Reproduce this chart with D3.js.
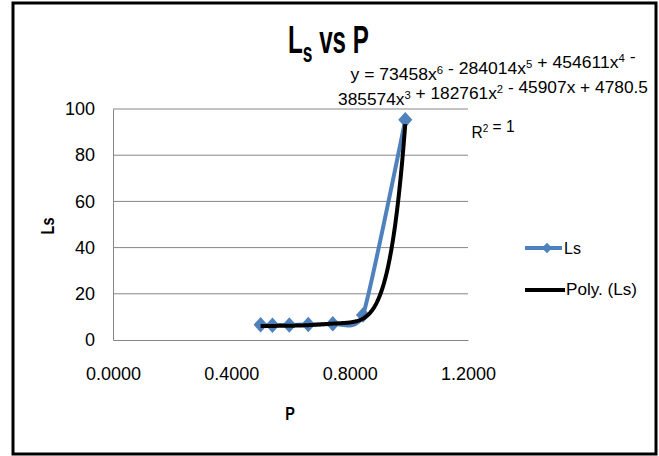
<!DOCTYPE html>
<html>
<head>
<meta charset="utf-8">
<script src="https://cdn.jsdelivr.net/npm/d3@7"></script>
<style>
  html, body { margin: 0; padding: 0; background: #fff; }
  svg { display: block; }
  text { font-family: "Liberation Sans", Arial, sans-serif; fill: #000; }
</style>
</head>
<body>
<svg id="chart" width="659" height="456"></svg>
<script>
// Ls measured against P
const pValues = [0.499, 0.539, 0.596, 0.660, 0.743, 0.845, 0.988];
const lsValues = [6.6, 6.4, 6.5, 6.7, 7.0, 10.8, 95.3];

// 6th-order polynomial trendline, coefficients from x^0 up to x^6
const polyCoefficients = [4780.5, -45907, 182761, -385574, 454611, -284014, 73458];

const xTicks = [0, 0.4, 0.8, 1.2];
const yTicks = [0, 20, 40, 60, 80, 100];
const seriesNames = ["Ls", "Poly. (Ls)"];

const svg = d3.select("#chart");

// outer chart frame
svg.append("rect")
  .attr("x", 13).attr("y", 3)
  .attr("width", 643).attr("height", 451)
  .attr("fill", "#fff")
  .attr("stroke", "#000")
  .attr("stroke-width", 3);

const x = d3.scaleLinear().domain([0, 1.2]).range([113, 468]);
const y = d3.scaleLinear().domain([0, 100]).range([340, 109]);

// horizontal gridlines
svg.append("g")
  .selectAll("line")
  .data(yTicks.filter(d => d > 0))
  .join("line")
  .attr("x1", x(0)).attr("x2", x(1.2))
  .attr("y1", d => y(d)).attr("y2", d => y(d))
  .attr("stroke", "#868686").attr("stroke-width", 1);

// y axis
const yAxis = svg.append("g")
  .attr("transform", `translate(${x(0)},0)`)
  .call(d3.axisLeft(y).tickValues(yTicks).tickSize(0).tickPadding(18).tickFormat(d3.format("d")));
yAxis.select(".domain").attr("stroke", "#868686");
yAxis.selectAll("text").attr("font-size", 18).attr("fill", "#000")
  .attr("font-family", '"Liberation Sans", Arial, sans-serif');

// x axis
const xAxis = svg.append("g")
  .attr("transform", `translate(0,${y(0)})`)
  .call(d3.axisBottom(x).tickValues(xTicks).tickSize(0).tickPadding(27).tickFormat(d3.format(".4f")));
xAxis.select(".domain").attr("stroke", "#868686");
xAxis.selectAll("text").attr("font-size", 18).attr("fill", "#000")
  .attr("font-family", '"Liberation Sans", Arial, sans-serif');

// smoothed data line
const pts = pValues.map((p, i) => [p, lsValues[i]]);
svg.append("path")
  .datum(pts)
  .attr("fill", "none")
  .attr("stroke", "#4F81BD")
  .attr("stroke-width", 4)
  .attr("d", d3.line().x(d => x(d[0])).y(d => y(d[1])).curve(d3.curveCardinal.tension(0.5)));

// diamond markers
const diamond = d3.symbol().type(d3.symbolDiamond2).size(140);
svg.append("g")
  .selectAll("path")
  .data(pts)
  .join("path")
  .attr("transform", d => `translate(${x(d[0])},${y(d[1])}) scale(0.95,1.05)`)
  .attr("d", diamond)
  .attr("fill", "#4F81BD");

// polynomial trendline evaluated from the fitted equation
const polyAt = v => polyCoefficients.reduceRight((acc, c) => acc * v + c, 0);
const pMin = d3.min(pValues), pMax = d3.max(pValues);
const trend = d3.range(0, 201).map(i => {
  const v = pMin + (pMax - pMin) * i / 200;
  return [v, polyAt(v)];
});
svg.append("path")
  .datum(trend)
  .attr("fill", "none")
  .attr("stroke", "#000")
  .attr("stroke-width", 4)
  .attr("stroke-linejoin", "round")
  .attr("d", d3.line().x(d => x(d[0])).y(d => y(d[1])));

// title  L_s vs P
const title = svg.append("text")
  .attr("transform", "translate(288,53) scale(0.62,1)")
  .attr("font-size", 39).attr("font-weight", "bold");
title.append("tspan").text("L");
title.append("tspan").attr("font-size", 28).attr("dy", 9).text("s");
title.append("tspan").attr("dy", -9).text(" vs P");

// trendline equation
function eqLine(parts, yPos, len) {
  const t = svg.append("text")
    .attr("x", 493).attr("y", yPos)
    .attr("text-anchor", "middle")
    .attr("font-size", 17)
    .attr("textLength", len)
    .attr("lengthAdjust", "spacingAndGlyphs");
  parts.forEach(([s, sup]) => {
    if (sup) {
      t.append("tspan").attr("font-size", 11).attr("dy", -6).text(s);
      t.append("tspan").attr("dy", 6).text("");
    } else {
      t.append("tspan").text(s);
    }
  });
}
eqLine([["y = 73458x"], ["6", 1], [" - 284014x"], ["5", 1], [" + 454611x"], ["4", 1], [" -"]], 80, 285);
eqLine([["385574x"], ["3", 1], [" + 182761x"], ["2", 1], [" - 45907x + 4780.5"]], 105, 310);
eqLine([["R"], ["2", 1], [" = 1"]], 138, 43);

// axis titles
svg.append("text")
  .attr("transform", "translate(54,226) rotate(-90) scale(0.8,1)")
  .attr("text-anchor", "middle")
  .attr("font-size", 18).attr("font-weight", "bold")
  .text("Ls");
svg.append("text")
  .attr("transform", "translate(290,420) scale(0.8,1)")
  .attr("text-anchor", "middle")
  .attr("font-size", 18).attr("font-weight", "bold")
  .text("P");

// legend
const legend = svg.append("g");
legend.append("line")
  .attr("x1", 525).attr("x2", 562).attr("y1", 248).attr("y2", 248)
  .attr("stroke", "#4F81BD").attr("stroke-width", 4);
legend.append("path")
  .attr("transform", "translate(547,248)")
  .attr("d", d3.symbol().type(d3.symbolDiamond2).size(70))
  .attr("fill", "#4F81BD");
legend.append("text")
  .attr("x", 564).attr("y", 254)
  .attr("font-size", 16)
  .text(seriesNames[0]);
legend.append("line")
  .attr("x1", 525).attr("x2", 565).attr("y1", 290).attr("y2", 290)
  .attr("stroke", "#000").attr("stroke-width", 4);
legend.append("text")
  .attr("x", 566).attr("y", 295)
  .attr("font-size", 16)
  .attr("textLength", 71).attr("lengthAdjust", "spacingAndGlyphs")
  .text(seriesNames[1]);
</script>
</body>
</html>
